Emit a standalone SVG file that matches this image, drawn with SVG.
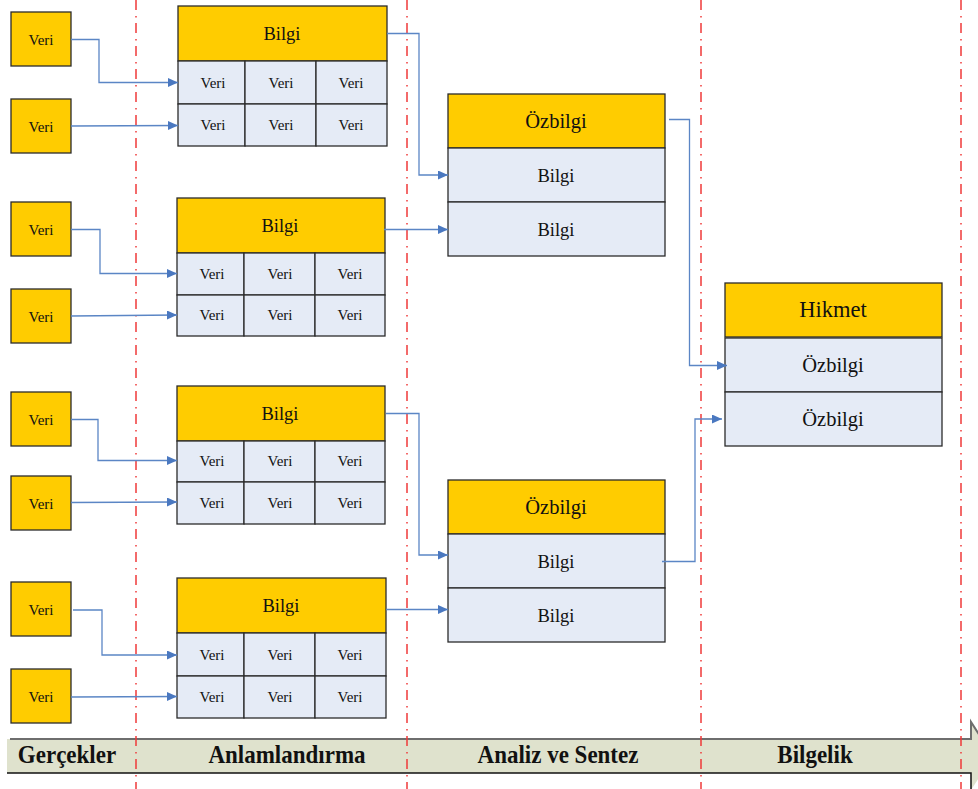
<svg xmlns="http://www.w3.org/2000/svg" width="978" height="789" viewBox="0 0 978 789">
  <defs>
    <style>
      .bg { fill: #ffffff; }
      .gold { fill: #ffcc00; stroke: #2b2b2b; stroke-width: 1.3; }
      .cell { fill: #e5ebf6; stroke: #2b2b2b; stroke-width: 1.3; }
      .t { font-family: "Liberation Serif", "Times New Roman", serif; fill: #111111; text-anchor: middle; }
      .veri { font-size: 15px; }
      .bilgi { font-size: 18.5px; }
      .oz { font-size: 20.5px; }
      .hik { font-size: 22.5px; }
      .stage { font-family: "Liberation Serif", "Times New Roman", serif; font-weight: bold; font-size: 23px; fill: #111111; text-anchor: middle; }
      .guide { stroke: #f03a3a; stroke-width: 1.5; fill: none; stroke-dasharray: 10 6 1.5 5.5; }
      .link { stroke: #5b86c5; stroke-width: 1.3; fill: none; }
    </style>
    <marker id="arrow" markerUnits="userSpaceOnUse" markerWidth="11" markerHeight="10" refX="10" refY="4.5" orient="auto">
      <path d="M0,0 L10,4.5 L0,9 z" fill="#4a78c0"/>
    </marker>
  </defs>

  <rect class="bg" x="0" y="0" width="978" height="789"/>

  <!-- stage band (block arrow along the bottom) -->
  <g id="stage-band">
    <path d="M7,739 H971 V722 L993,756 L971,790 V773 H7 Z" fill="#dfe2cd"/>
    <path d="M10,739 H971 V722 L993,756" fill="none" stroke="#6e6e6e" stroke-width="2"/>
    <path d="M7,773 H971 V790" fill="none" stroke="#111111" stroke-width="1.5"/>
    <g transform="translate(0,763) scale(1,1.08) translate(0,-763)">
      <text class="stage" x="67" y="763">Gerçekler</text>
      <text class="stage" x="287" y="763">Anlamlandırma</text>
      <text class="stage" x="558" y="763">Analiz ve Sentez</text>
      <text class="stage" x="815" y="763">Bilgelik</text>
    </g>
  </g>

  <!-- phase separators -->
  <g id="separators">
    <line class="guide" x1="136" y1="0" x2="136" y2="789"/>
    <line class="guide" x1="407" y1="0" x2="407" y2="789"/>
    <line class="guide" x1="701" y1="0" x2="701" y2="789"/>
    <line class="guide" x1="961" y1="0" x2="961" y2="789"/>
  </g>

  <!-- raw data boxes -->
  <g id="veri-1a"><rect class="gold" x="11" y="12" width="60" height="54"/><text class="t veri" x="41" y="44.5">Veri</text></g>
  <g id="veri-1b"><rect class="gold" x="11" y="99" width="60" height="54"/><text class="t veri" x="41" y="131.5">Veri</text></g>
  <g id="veri-2a"><rect class="gold" x="11" y="202" width="60" height="54"/><text class="t veri" x="41" y="234.5">Veri</text></g>
  <g id="veri-2b"><rect class="gold" x="11" y="289" width="60" height="54"/><text class="t veri" x="41" y="321.5">Veri</text></g>
  <g id="veri-3a"><rect class="gold" x="11" y="392" width="60" height="54"/><text class="t veri" x="41" y="424.5">Veri</text></g>
  <g id="veri-3b"><rect class="gold" x="11" y="476" width="60" height="54"/><text class="t veri" x="41" y="508.5">Veri</text></g>
  <g id="veri-4a"><rect class="gold" x="11" y="582" width="60" height="54"/><text class="t veri" x="41" y="614.5">Veri</text></g>
  <g id="veri-4b"><rect class="gold" x="11" y="669" width="60" height="54"/><text class="t veri" x="41" y="701.5">Veri</text></g>

  <!-- information tables -->
  <g id="bilgi-1">
    <rect class="gold" x="178" y="6" width="209" height="55"/>
    <text class="t bilgi" x="282" y="40">Bilgi</text>
    <rect class="cell" x="178" y="61" width="67" height="43"/>
    <rect class="cell" x="245" y="61" width="71" height="43"/>
    <rect class="cell" x="316" y="61" width="71" height="43"/>
    <rect class="cell" x="178" y="104" width="67" height="42"/>
    <rect class="cell" x="245" y="104" width="71" height="42"/>
    <rect class="cell" x="316" y="104" width="71" height="42"/>
    <text class="t veri" x="213" y="88">Veri</text>
    <text class="t veri" x="281" y="88">Veri</text>
    <text class="t veri" x="351" y="88">Veri</text>
    <text class="t veri" x="213" y="130">Veri</text>
    <text class="t veri" x="281" y="130">Veri</text>
    <text class="t veri" x="351" y="130">Veri</text>
  </g>
  <g id="bilgi-2">
    <rect class="gold" x="177" y="198" width="208" height="55"/>
    <text class="t bilgi" x="280" y="232">Bilgi</text>
    <rect class="cell" x="177" y="253" width="67" height="42"/>
    <rect class="cell" x="244" y="253" width="71" height="42"/>
    <rect class="cell" x="315" y="253" width="70" height="42"/>
    <rect class="cell" x="177" y="295" width="67" height="41"/>
    <rect class="cell" x="244" y="295" width="71" height="41"/>
    <rect class="cell" x="315" y="295" width="70" height="41"/>
    <text class="t veri" x="212" y="279">Veri</text>
    <text class="t veri" x="280" y="279">Veri</text>
    <text class="t veri" x="350" y="279">Veri</text>
    <text class="t veri" x="212" y="320">Veri</text>
    <text class="t veri" x="280" y="320">Veri</text>
    <text class="t veri" x="350" y="320">Veri</text>
  </g>
  <g id="bilgi-3">
    <rect class="gold" x="177" y="386" width="208" height="55"/>
    <text class="t bilgi" x="280" y="420">Bilgi</text>
    <rect class="cell" x="177" y="441" width="67" height="41"/>
    <rect class="cell" x="244" y="441" width="71" height="41"/>
    <rect class="cell" x="315" y="441" width="70" height="41"/>
    <rect class="cell" x="177" y="482" width="67" height="42"/>
    <rect class="cell" x="244" y="482" width="71" height="42"/>
    <rect class="cell" x="315" y="482" width="70" height="42"/>
    <text class="t veri" x="212" y="466">Veri</text>
    <text class="t veri" x="280" y="466">Veri</text>
    <text class="t veri" x="350" y="466">Veri</text>
    <text class="t veri" x="212" y="508">Veri</text>
    <text class="t veri" x="280" y="508">Veri</text>
    <text class="t veri" x="350" y="508">Veri</text>
  </g>
  <g id="bilgi-4">
    <rect class="gold" x="177" y="578" width="209" height="55"/>
    <text class="t bilgi" x="281" y="612">Bilgi</text>
    <rect class="cell" x="177" y="633" width="67" height="43"/>
    <rect class="cell" x="244" y="633" width="71" height="43"/>
    <rect class="cell" x="315" y="633" width="71" height="43"/>
    <rect class="cell" x="177" y="676" width="67" height="42"/>
    <rect class="cell" x="244" y="676" width="71" height="42"/>
    <rect class="cell" x="315" y="676" width="71" height="42"/>
    <text class="t veri" x="212" y="660">Veri</text>
    <text class="t veri" x="280" y="660">Veri</text>
    <text class="t veri" x="350" y="660">Veri</text>
    <text class="t veri" x="212" y="702">Veri</text>
    <text class="t veri" x="280" y="702">Veri</text>
    <text class="t veri" x="350" y="702">Veri</text>
  </g>

  <!-- knowledge tables -->
  <g id="ozbilgi-1">
    <rect class="gold" x="448" y="94" width="217" height="54"/>
    <text class="t oz" x="556" y="128">Özbilgi</text>
    <rect class="cell" x="448" y="148" width="217" height="54"/>
    <text class="t bilgi" x="556" y="181.5">Bilgi</text>
    <rect class="cell" x="448" y="202" width="217" height="54"/>
    <text class="t bilgi" x="556" y="235.5">Bilgi</text>
  </g>
  <g id="ozbilgi-2">
    <rect class="gold" x="448" y="480" width="217" height="54"/>
    <text class="t oz" x="556" y="514">Özbilgi</text>
    <rect class="cell" x="448" y="534" width="217" height="54"/>
    <text class="t bilgi" x="556" y="567.5">Bilgi</text>
    <rect class="cell" x="448" y="588" width="217" height="54"/>
    <text class="t bilgi" x="556" y="621.5">Bilgi</text>
  </g>

  <!-- wisdom table -->
  <g id="hikmet">
    <rect class="gold" x="725" y="283" width="217" height="54"/>
    <text class="t hik" x="833" y="317">Hikmet</text>
    <rect class="cell" x="725" y="338" width="217" height="54"/>
    <text class="t oz" x="833" y="372">Özbilgi</text>
    <rect class="cell" x="725" y="392" width="217" height="54"/>
    <text class="t oz" x="833" y="426">Özbilgi</text>
  </g>

  <!-- connectors -->
  <g id="connectors">
    <path class="link" marker-end="url(#arrow)" d="M71,39.5 H99 V82.5 H178"/>
    <path class="link" marker-end="url(#arrow)" d="M71,126 L178,125.5"/>
    <path class="link" marker-end="url(#arrow)" d="M71,229.5 H100 V273.5 H177"/>
    <path class="link" marker-end="url(#arrow)" d="M71,316 L177,315"/>
    <path class="link" marker-end="url(#arrow)" d="M71,419.5 H98 V460.5 H177"/>
    <path class="link" marker-end="url(#arrow)" d="M71,502.5 L177,502"/>
    <path class="link" marker-end="url(#arrow)" d="M73,610 H102 V655 H177"/>
    <path class="link" marker-end="url(#arrow)" d="M71,697 L177,696.5"/>
    <path class="link" marker-end="url(#arrow)" d="M387,33.5 H419 V175 H448"/>
    <path class="link" marker-end="url(#arrow)" d="M384,229.5 H448"/>
    <path class="link" marker-end="url(#arrow)" d="M386,413.5 H419 V555 H448"/>
    <path class="link" marker-end="url(#arrow)" d="M386,609.5 H448"/>
    <path class="link" marker-end="url(#arrow)" d="M669,119.5 H689.5 V365.5 H727"/>
    <path class="link" marker-end="url(#arrow)" d="M662,561.5 H695 V419 H722"/>
  </g>
</svg>
